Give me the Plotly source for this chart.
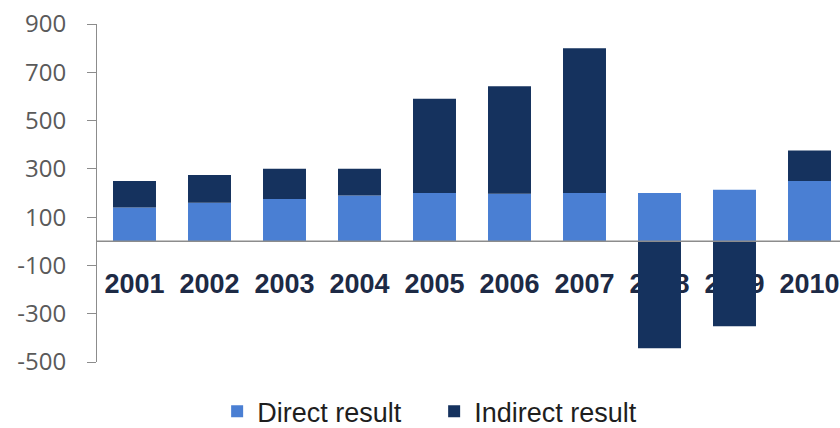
import plotly.graph_objects as go

# Yearly results split into the direct and indirect parts
years = ["2001", "2002", "2003", "2004", "2005", "2006", "2007", "2008", "2009", "2010"]
direct_result = [140, 160, 175, 190, 200, 197, 200, 200, 213, 250]
indirect_result = [110, 115, 125, 110, 390, 445, 600, -443, -352, 126]

y_ticks = [-500, -300, -100, 100, 300, 500, 700, 900]
y_tick_labels = [str(v) for v in y_ticks]

DIRECT_COLOR = "#4a7fd3"
INDIRECT_COLOR = "#15325e"
AXIS_GRAY = "#8c8c8c"

fig = go.Figure()
fig.add_trace(go.Bar(x=years, y=direct_result, name="Direct result",
                     marker=dict(color=DIRECT_COLOR, line=dict(width=0)),
                     width=0.573))
fig.add_trace(go.Bar(x=years, y=indirect_result, name="Indirect result",
                     marker=dict(color=INDIRECT_COLOR, line=dict(width=0)),
                     width=0.573))

y_min, y_max = -500, 900
zero_pos = (0 - y_min) / (y_max - y_min)

plot_w = 840 - 97
fig.update_layout(
    width=840, height=428,
    margin=dict(l=97, r=0, t=24, b=66, autoexpand=False),
    barmode="relative",
    paper_bgcolor="white",
    plot_bgcolor="white",
    showlegend=True,
    legend=dict(orientation="h", xref="container", yref="container",
                x=0.2585, y=0.038, xanchor="left", yanchor="middle",
                entrywidth=172, entrywidthmode="pixels",
                font=dict(family="Liberation Sans, Arial, sans-serif", size=27, color="#1e1e1e"),
                traceorder="normal", itemclick=False, bgcolor="rgba(0,0,0,0)"),
    xaxis=dict(
        type="category",
        range=[-0.5, -0.5 + plot_w / 75.0],
        anchor="free", position=zero_pos,
        layer="below traces",
        showline=False, showgrid=False, zeroline=False, ticks="",
        ticklabelstandoff=24,
        tickfont=dict(family="Liberation Sans, Arial, sans-serif", size=27,
                      color="#1d2a45", weight="bold"),
    ),
    yaxis=dict(
        range=[y_min, y_max],
        tickvals=y_ticks, ticktext=y_tick_labels,
        showgrid=False, zeroline=False,
        showline=True, linecolor=AXIS_GRAY, linewidth=1,
        ticks="outside", ticklen=9, tickcolor=AXIS_GRAY, tickwidth=1,
        ticklabelstandoff=16,
        tickfont=dict(family="Open Sans, sans-serif", size=24, color="#5a5a5a"),
    ),
)

# Horizontal baseline at zero, drawn over the bars
fig.add_shape(type="line", xref="paper", yref="y", x0=0, x1=1, y0=0, y1=0,
              line=dict(color=AXIS_GRAY, width=1.5), layer="above")

fig.write_html("out.html")
